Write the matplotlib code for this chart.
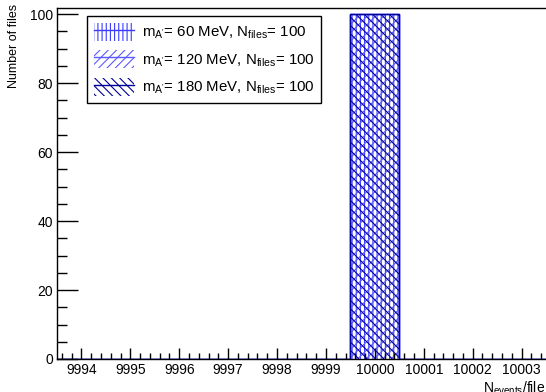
import matplotlib
matplotlib.use('Agg')
import matplotlib.pyplot as plt
from matplotlib.ticker import MultipleLocator
from matplotlib.patches import Patch
from matplotlib.lines import Line2D

# histogram data
edges = [9993.5, 9994.5, 9995.5, 9996.5, 9997.5, 9998.5, 9999.5, 10000.5, 10001.5, 10002.5, 10003.5]
counts_60 = [0, 0, 0, 0, 0, 0, 100, 0, 0, 0]
counts_120 = [0, 0, 0, 0, 0, 0, 100, 0, 0, 0]
counts_180 = [0, 0, 0, 0, 0, 0, 100, 0, 0, 0]
labels = [r"m$_{\mathrm{A'}}$= 60 MeV, N$_{\mathrm{files}}$= 100",
          r"m$_{\mathrm{A'}}$= 120 MeV, N$_{\mathrm{files}}$= 100",
          r"m$_{\mathrm{A'}}$= 180 MeV, N$_{\mathrm{files}}$= 100"]
xticks = [9994, 9995, 9996, 9997, 9998, 9999, 10000, 10001, 10002, 10003]

plt.rcParams['font.family'] = ['Liberation Sans', 'DejaVu Sans']
plt.rcParams['mathtext.fontset'] = 'custom'
plt.rcParams['mathtext.rm'] = 'Liberation Sans'
plt.rcParams['mathtext.it'] = 'Liberation Sans'
plt.rcParams['hatch.linewidth'] = 0.8

fig = plt.figure(figsize=(5.46, 3.92), dpi=100)
ax = fig.add_axes([0.1044, 0.0842, 0.8956, 0.8954])

styles = [('||||', '#3c3cff'), ('////', '#5a5aff'), ('\\\\\\\\', '#00009a')]
handles = []
for counts, (hatch, col), lab in zip([counts_60, counts_120, counts_180], styles, labels):
    ax.stairs(counts, edges, fill=False, hatch=hatch, edgecolor=col, linewidth=1)
    handles.append((Patch(facecolor='none', edgecolor=col, hatch=hatch, linewidth=0),
                    Line2D([0], [0], color=col, linewidth=1)))

ax.set_xlim(9993.5, 10003.5)
ax.set_ylim(0, 101.8)
ax.set_xticks(xticks)
ax.ticklabel_format(axis='x', useOffset=False, style='plain')
ax.xaxis.set_minor_locator(MultipleLocator(0.2))
ax.yaxis.set_major_locator(MultipleLocator(20))
ax.yaxis.set_minor_locator(MultipleLocator(5))
ax.tick_params(axis='both', which='both', direction='in', labelsize=10, width=1)
ax.tick_params(axis='x', which='major', length=8, pad=3)
ax.tick_params(axis='x', which='minor', length=4)
ax.tick_params(axis='y', which='major', length=15, pad=3)
ax.tick_params(axis='y', which='minor', length=7)
for s in ax.spines.values():
    s.set_linewidth(1)
ax.spines['right'].set_visible(False)

fig.text(0.999, -0.012, r"N$_{\mathrm{events}}$/file", fontsize=10, ha='right', va='bottom')
fig.text(0.026, 0.99, "Number of files", fontsize=9, rotation=90, ha='center', va='top')

leg = ax.legend(handles, labels, loc='upper left', bbox_to_anchor=(0.0613, 0.977), fontsize=10.8,
                frameon=True, fancybox=False, edgecolor='black', framealpha=1,
                handlelength=2.7, handleheight=1.45, borderpad=0.45, labelspacing=0.62,
                handletextpad=0.5, borderaxespad=0)
leg.get_frame().set_linewidth(1)

fig.savefig('out.png', dpi=100)
